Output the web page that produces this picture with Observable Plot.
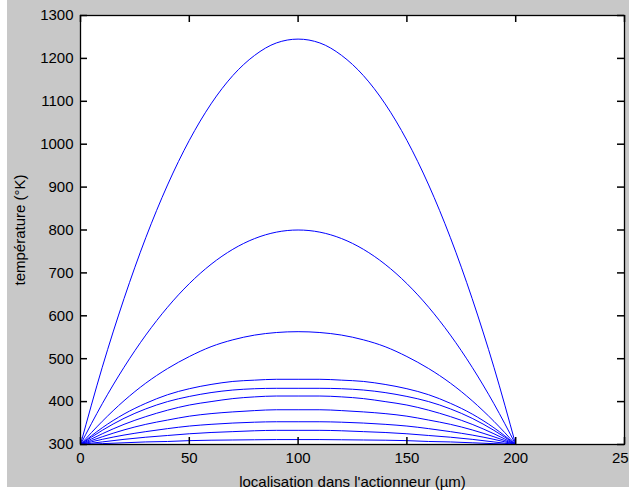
<!DOCTYPE html>
<html>
<head>
<meta charset="utf-8">
<script src="https://cdn.jsdelivr.net/npm/d3@7"></script>
<script src="https://cdn.jsdelivr.net/npm/@observablehq/plot@0.6"></script>
<style>
  html, body { margin: 0; padding: 0; background: #ffffff; }
  #wrap { position: relative; width: 629px; height: 490px; overflow: hidden; }
  #bg { position: absolute; left: 7px; top: 0; width: 622px; height: 487px; background: #c8c8c8; }
  #chart { position: absolute; left: 0; top: 0; }
</style>
</head>
<body>
<div id="wrap"><div id="bg"></div><div id="chart"></div></div>
<script>
// Positions along the actuator (µm)
const positions = [0,10,20,30,40,50,60,70,80,90,100,110,120,130,140,150,160,170,180,190,200];

// Temperature profiles (°K)
const curve1  = [300,480,640,782,905,1009,1094,1160,1207,1236,1245,1236,1207,1160,1094,1009,905,782,640,480,300];
const curve2  = [300,395,480,555,620,675,720,755,780,795,800,795,780,755,720,675,620,555,480,395,300];
const curve3  = [300,354,402,443,477,505,528,544,555,561,563,561,555,544,528,505,477,443,402,354,300];
const curve4  = [300,339,371,396,416,430,440,447,450,452,452,452,450,447,440,430,416,396,371,339,300];
const curve5  = [300,333,361,383,400,412,421,427,430,431,431,431,430,427,421,412,400,383,361,333,300];
const curve6  = [300,325,347,365,380,392,400,407,411,413,413,413,411,407,400,392,380,365,347,325,300];
const curve7  = [300,318,334,347,357,366,372,376,379,381,381,381,379,376,372,366,357,347,334,318,300];
const curve8  = [300,312,322,330,337,343,347,350,352,353,353,353,352,350,347,343,337,330,322,312,300];
const curve9  = [300,306,312,317,321,325,328,330,332,333,333,333,332,330,328,325,321,317,312,306,300];
const curve10 = [300,302,304,306,307,309,310,310.5,311,311.5,311.5,311.5,311,310.5,310,309,307,306,304,302,300];

const curves = [curve1, curve2, curve3, curve4, curve5, curve6, curve7, curve8, curve9, curve10];

const xTicks = [0, 50, 100, 150, 200, 250];
const yTicks = [300, 400, 500, 600, 700, 800, 900, 1000, 1100, 1200, 1300];

const xLabel = "localisation dans l'actionneur (µm)";
const yLabel = "température (°K)";

const rows = [];
curves.forEach((c, i) => c.forEach((t, j) => rows.push({curve: i, x: positions[j], t})));

const fmt = d => String(d);

const W = 629, H = 490, ML = 80, MR = 5, MT = 15, MB = 46;
const TICK = 7;
const innerW = W - ML - MR, innerH = H - MT - MB;

const chart = Plot.plot({
  width: W,
  height: H,
  marginLeft: ML,
  marginRight: MR,
  marginTop: MT,
  marginBottom: MB,
  style: {background: "transparent", fontFamily: "'Liberation Sans', Arial, sans-serif", fontSize: "15px", color: "#000"},
  x: {domain: [0, 250], label: null},
  y: {domain: [300, 1300], label: null},
  marks: [
    Plot.frame({fill: "white", stroke: "none"}),
    Plot.line(rows, {x: "x", y: "t", z: "curve", stroke: "#0000ff", strokeWidth: 1, curve: "monotone-x"}),
    Plot.frame({stroke: "black", strokeWidth: 1.3}),
    Plot.ruleX(xTicks, {x: d => d, insetTop: innerH - TICK, stroke: "#000", strokeWidth: 1.5, strokeOpacity: 1}),
    Plot.ruleX(xTicks, {x: d => d, insetBottom: innerH - TICK, stroke: "#000", strokeWidth: 1.5, strokeOpacity: 1}),
    Plot.ruleY(yTicks, {y: d => d, insetRight: innerW - TICK, stroke: "#000", strokeWidth: 1.5, strokeOpacity: 1}),
    Plot.ruleY(yTicks, {y: d => d, insetLeft: innerW - TICK, stroke: "#000", strokeWidth: 1.5, strokeOpacity: 1}),
    Plot.axisX(xTicks, {anchor: "bottom", tickSize: 0, tickPadding: 8, tickFormat: fmt, label: xLabel, labelAnchor: "center", labelOffset: 42, labelArrow: "none", fontSize: 15}),
    Plot.axisY(yTicks, {anchor: "left", tickSize: 0, tickPadding: 7, tickFormat: fmt, label: yLabel, labelAnchor: "center", labelOffset: 66, labelArrow: "none", fontSize: 15})
  ]
});
document.getElementById("chart").appendChild(chart);
</script>
</body>
</html>
